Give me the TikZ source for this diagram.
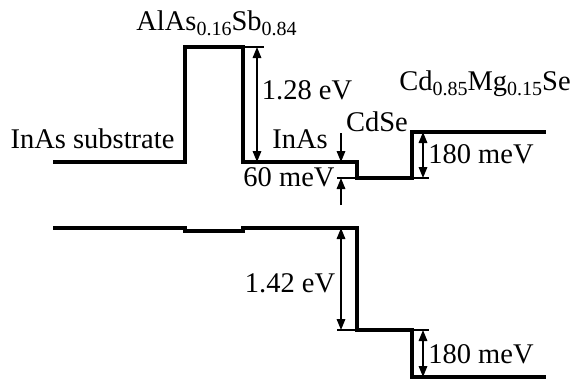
\documentclass[tikz,border=0pt]{standalone}
\usepackage{fontspec}
\setmainfont{Liberation Serif}
\usetikzlibrary{arrows.meta}
\newcommand\sbs[1]{\raisebox{-0.2em}{\fontsize{20}{20}\selectfont #1}}
\begin{document}
\begin{tikzpicture}[x=1pt,y=-1pt,
  band/.style={line width=3.4pt,line join=miter},
  ext/.style={line width=1.6pt},
  dim/.style={line width=1.6pt,{Triangle[length=11pt,width=8.5pt]}-{Triangle[length=11pt,width=8.5pt]}},
  single/.style={line width=1.6pt,-{Triangle[length=11pt,width=8.5pt]}},
  lbl/.style={font=\fontsize{28.5}{30}\selectfont,inner sep=0pt,anchor=base}]
\useasboundingbox (0,0) rectangle (573,381);
% conduction band
\draw[band] (53,162) -- (185,162) -- (185,47) -- (243,47) -- (243,162) -- (357,162)
  -- (357,178) -- (412,178) -- (412,132) -- (546,132);
% valence band
\draw[band] (53,228) -- (185,228) -- (185,231) -- (243,231) -- (243,228) -- (357,228)
  -- (357,330) -- (412,330) -- (412,377) -- (546,377);
% coordinates
\coordinate (a1) at (257,47);  \coordinate (a2) at (257,162);
\coordinate (b0) at (341,133); \coordinate (b1) at (341,162);
\coordinate (b2) at (341,178); \coordinate (b3) at (341,205);
\coordinate (c1) at (423,132); \coordinate (c2) at (423,178);
\coordinate (d1) at (341,228); \coordinate (d2) at (341,330);
\coordinate (e1) at (423,330); \coordinate (e2) at (423,377);
\coordinate (x1a) at (243,47);  \coordinate (x1b) at (264,47);
\coordinate (x2a) at (337,178); \coordinate (x2b) at (357,178);
\coordinate (x3a) at (412,178); \coordinate (x3b) at (429,178);
\coordinate (x4a) at (337,330); \coordinate (x4b) at (357,330);
\coordinate (x5a) at (412,330); \coordinate (x5b) at (429,330);
% extension lines
\draw[ext] (x1a) -- (x1b);
\draw[ext] (x2a) -- (x2b);
\draw[ext] (x3a) -- (x3b);
\draw[ext] (x4a) -- (x4b);
\draw[ext] (x5a) -- (x5b);
% dimension arrows
\draw[dim] (a1) -- (a2);
\draw[single] (b0) -- (b1);
\draw[single] (b3) -- (b2);
\draw[dim] (c1) -- (c2);
\draw[dim] (d1) -- (d2);
\draw[dim] (e1) -- (e2);
% labels
\node[lbl] (alassb) at (216.5,30) {AlAs\sbs{0.16}Sb\sbs{0.84}};
\node[lbl] (sub) at (92.5,148) {InAs substrate};
\node[lbl] (ev128) at (307,99) {1.28 eV};
\node[lbl] (inas) at (300,148) {InAs};
\node[lbl] (mev60) at (289,186) {60 meV};
\node[lbl] (cdse) at (377,131) {CdSe};
\node[lbl] (cdmgse) at (485,90) {Cd\sbs{0.85}Mg\sbs{0.15}Se};
\node[lbl] (mev180a) at (481,163) {180 meV};
\node[lbl] (ev142) at (290,292) {1.42 eV};
\node[lbl] (mev180b) at (481,363) {180 meV};
\end{tikzpicture}
\end{document}
